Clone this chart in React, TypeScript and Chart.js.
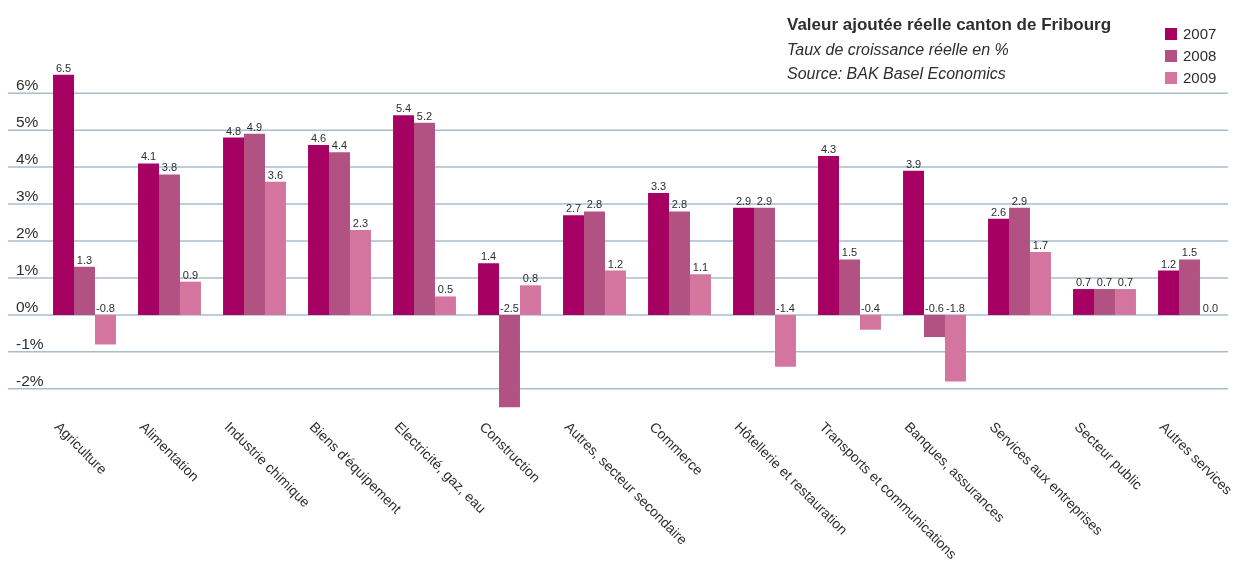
import React, { useEffect, useRef } from 'react';
import { Chart, registerables } from 'chart.js';

Chart.register(...registerables);

const categories = [
  'Agriculture',
  'Alimentation',
  'Industrie chimique',
  "Biens d'équipement",
  'Electricité, gaz, eau',
  'Construction',
  'Autres, secteur secondaire',
  'Commerce',
  'Hôtellerie et restauration',
  'Transports et communications',
  'Banques, assurances',
  'Services aux entreprises',
  'Secteur public',
  'Autres services',
];

const values2007 = [6.5, 4.1, 4.8, 4.6, 5.4, 1.4, 2.7, 3.3, 2.9, 4.3, 3.9, 2.6, 0.7, 1.2];
const values2008 = [1.3, 3.8, 4.9, 4.4, 5.2, -2.5, 2.8, 2.8, 2.9, 1.5, -0.6, 2.9, 0.7, 1.5];
const values2009 = [-0.8, 0.9, 3.6, 2.3, 0.5, 0.8, 1.2, 1.1, -1.4, -0.4, -1.8, 1.7, 0.7, 0.0];

const seriesLabels = ['2007', '2008', '2009'];
const seriesColors = ['#A50062', '#B15283', '#D3759F'];
const yTicks = [-2, -1, 0, 1, 2, 3, 4, 5, 6];

const title = 'Valeur ajoutée réelle canton de Fribourg';
const subtitle = 'Taux de croissance réelle en %';
const source = 'Source: BAK Basel Economics';

const FONT = "'Liberation Sans', Arial, sans-serif";
const TEXT_COLOR = '#2E2E2E';

const customDraw = {
  id: 'customDraw',
  beforeDatasetsDraw(chart: any) {
    const { ctx } = chart;
    const y = chart.scales.y;
    ctx.save();
    ctx.strokeStyle = '#A9BDD0';
    ctx.lineWidth = 1.5;
    ctx.fillStyle = TEXT_COLOR;
    ctx.font = `15.5px ${FONT}`;
    ctx.textAlign = 'left';
    ctx.textBaseline = 'alphabetic';
    yTicks.forEach((v) => {
      const py = y.getPixelForValue(v);
      ctx.beginPath();
      ctx.moveTo(8, py);
      ctx.lineTo(1228, py);
      ctx.stroke();
      ctx.fillText(`${v}%`, 16, py - 3);
    });
    ctx.restore();
  },
  afterDatasetsDraw(chart: any) {
    const { ctx } = chart;
    const y = chart.scales.y;
    const x = chart.scales.x;
    ctx.save();
    ctx.fillStyle = TEXT_COLOR;
    ctx.font = `11px ${FONT}`;
    ctx.textAlign = 'center';
    ctx.textBaseline = 'alphabetic';
    chart.data.datasets.forEach((ds: any, i: number) => {
      const meta = chart.getDatasetMeta(i);
      meta.data.forEach((bar: any, j: number) => {
        const v = ds.data[j] as number;
        const yPix = v >= 0 ? bar.y : y.getPixelForValue(0);
        ctx.fillText(v.toFixed(1), bar.x, yPix - 3);
      });
    });
    ctx.font = `14px ${FONT}`;
    ctx.textAlign = 'left';
    ctx.textBaseline = 'top';
    categories.forEach((c, i) => {
      const cx = x.getPixelForValue(i);
      ctx.save();
      ctx.translate(cx - 23, 420);
      ctx.rotate(Math.PI / 4);
      ctx.fillText(c, 0, 0);
      ctx.restore();
    });
    ctx.restore();
  },
};

export default function App() {
  const canvasRef = useRef<HTMLCanvasElement | null>(null);

  useEffect(() => {
    if (!canvasRef.current) return;
    const chart = new Chart(canvasRef.current, {
      type: 'bar',
      data: {
        labels: categories,
        datasets: [values2007, values2008, values2009].map((d, i) => ({
          label: seriesLabels[i],
          data: d,
          backgroundColor: seriesColors[i],
          borderWidth: 0,
          categoryPercentage: 0.74,
          barPercentage: 1.0,
        })),
      },
      options: {
        responsive: false,
        animation: false,
        layout: { padding: { left: 42, right: 2, top: 71, bottom: 152 } },
        plugins: {
          legend: { display: false },
          tooltip: { enabled: false },
          title: { display: false },
        },
        scales: {
          x: { display: false, grid: { display: false } },
          y: { display: false, min: -2.6, max: 6.6, grid: { display: false } },
        },
      },
      plugins: [customDraw],
    });
    return () => chart.destroy();
  }, []);

  const legendRows = [34, 56, 78];

  return (
    <div style={{ position: 'fixed', left: 0, top: 0, width: 1234, height: 563, background: '#fff' }}>
      <canvas ref={canvasRef} width={1234} height={563} style={{ position: 'absolute', left: 0, top: 0 }} />
      <div style={{ position: 'absolute', left: 787, top: 15, fontFamily: FONT, fontWeight: 'bold', fontSize: 17, lineHeight: '20px', color: TEXT_COLOR, whiteSpace: 'nowrap' }}>{title}</div>
      <div style={{ position: 'absolute', left: 787, top: 40, fontFamily: FONT, fontStyle: 'italic', fontSize: 16, lineHeight: '20px', color: TEXT_COLOR, whiteSpace: 'nowrap' }}>{subtitle}</div>
      <div style={{ position: 'absolute', left: 787, top: 64, fontFamily: FONT, fontStyle: 'italic', fontSize: 16, lineHeight: '20px', color: TEXT_COLOR, whiteSpace: 'nowrap' }}>{source}</div>
      {seriesLabels.map((s, i) => (
        <React.Fragment key={s}>
          <div style={{ position: 'absolute', left: 1165, top: legendRows[i] - 6, width: 12, height: 12, background: seriesColors[i] }} />
          <div style={{ position: 'absolute', left: 1183, top: legendRows[i] - 10, fontFamily: FONT, fontSize: 15, lineHeight: '20px', color: TEXT_COLOR }}>{s}</div>
        </React.Fragment>
      ))}
    </div>
  );
}
